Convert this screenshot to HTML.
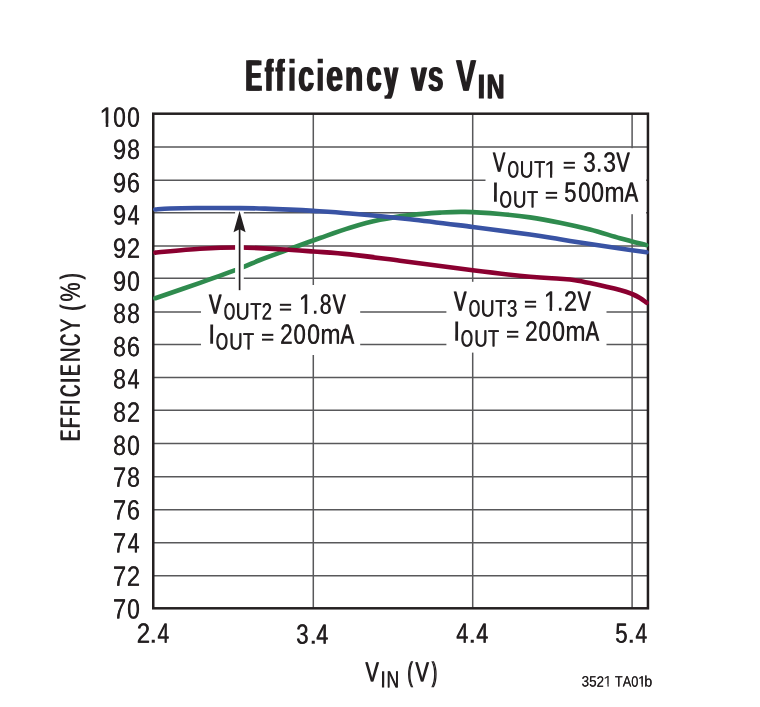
<!DOCTYPE html>
<html><head><meta charset="utf-8"><title>Efficiency vs VIN</title>
<style>
html,body{margin:0;padding:0;background:#fff;}
body{width:760px;height:707px;overflow:hidden;}
svg{display:block;will-change:transform;}
text{font-family:"Liberation Sans",sans-serif;font-kerning:none;}
</style></head><body>
<svg width="760" height="707" viewBox="0 0 760 707">
<rect width="760" height="707" fill="#fff"/>
<path d="M153.25 147.00H647.95M153.25 180.20H647.95M153.25 212.70H647.95M153.25 246.10H647.95M153.25 278.15H647.95M153.25 312.00H647.95M153.25 344.45H647.95M153.25 377.60H647.95M153.25 410.30H647.95M153.25 443.50H647.95M153.25 476.70H647.95M153.25 509.80H647.95M153.25 542.70H647.95M153.25 575.70H647.95M313.3 113.7V608.3M472.7 113.7V608.3M632.1 113.7V608.3" stroke="#58585a" stroke-width="1.5" fill="none"/>
<rect x="485.5" y="148.2" width="160.6" height="66" fill="#fff"/>
<rect x="201" y="285" width="159.2" height="70" fill="#fff"/>
<rect x="446.4" y="281.8" width="160.1" height="70.8" fill="#fff"/>
<rect x="153.25" y="113.7" width="494.70" height="494.60" fill="none" stroke="#231f20" stroke-width="2.5"/>
<path d="M155.30 298.20C162.75 295.63 185.88 287.77 200.00 282.80C214.12 277.83 230.00 272.20 240.00 268.40C250.00 264.60 251.67 263.25 260.00 260.00C268.33 256.75 280.00 252.57 290.00 248.90C300.00 245.23 310.00 241.53 320.00 238.00C330.00 234.47 340.00 230.73 350.00 227.70C360.00 224.67 370.00 221.90 380.00 219.80C390.00 217.70 400.00 216.30 410.00 215.10C420.00 213.90 430.83 213.13 440.00 212.60C449.17 212.07 455.00 211.67 465.00 211.90C475.00 212.13 489.17 213.08 500.00 214.00C510.83 214.92 520.00 215.93 530.00 217.40C540.00 218.87 550.00 220.77 560.00 222.80C570.00 224.83 580.00 227.03 590.00 229.60C600.00 232.17 610.63 235.62 620.00 238.20C629.37 240.78 641.83 243.95 646.20 245.10" stroke="#2f8b4e" stroke-width="4.6" fill="none" stroke-linecap="round" stroke-linejoin="round"/>
<path d="M155.30 252.60C162.75 251.97 185.88 249.65 200.00 248.80C214.12 247.95 226.67 247.43 240.00 247.50C253.33 247.57 267.77 248.53 280.00 249.20C292.23 249.87 301.73 250.63 313.40 251.50C325.07 252.37 335.57 252.87 350.00 254.40C364.43 255.93 379.55 258.05 400.00 260.70C420.45 263.35 451.03 267.62 472.70 270.30C494.37 272.98 515.45 275.38 530.00 276.80C544.55 278.22 552.50 278.23 560.00 278.80C567.50 279.37 570.00 279.48 575.00 280.20C580.00 280.92 582.50 281.45 590.00 283.10C597.50 284.75 613.00 288.28 620.00 290.10C627.00 291.92 628.67 292.68 632.00 294.00C635.33 295.32 637.57 296.55 640.00 298.00C642.43 299.45 645.50 301.92 646.60 302.70" stroke="#8a0030" stroke-width="4.6" fill="none" stroke-linecap="round" stroke-linejoin="round"/>
<path d="M155.30 209.50C157.75 209.33 163.22 208.74 170.00 208.50C176.78 208.26 184.33 208.12 196.00 208.05C207.67 207.98 228.50 208.01 240.00 208.10C251.50 208.19 256.67 208.35 265.00 208.60C273.33 208.85 281.93 209.22 290.00 209.60C298.07 209.98 303.40 210.25 313.40 210.90C323.40 211.55 333.90 212.12 350.00 213.50C366.10 214.88 389.55 216.95 410.00 219.20C430.45 221.45 452.70 224.45 472.70 227.00C492.70 229.55 515.45 232.45 530.00 234.50C544.55 236.55 550.00 237.70 560.00 239.30C570.00 240.90 580.00 242.57 590.00 244.10C600.00 245.63 610.57 247.13 620.00 248.50C629.43 249.87 642.17 251.67 646.60 252.30" stroke="#3953a4" stroke-width="4.6" fill="none" stroke-linecap="round" stroke-linejoin="round"/>
<rect x="235.1" y="211.2" width="8.7" height="79" fill="#fff"/>
<path d="M239.6 290.2V228" stroke="#231f20" stroke-width="1.7" fill="none"/>
<path d="M239.55 211.0L245.6 232.3L239.55 229.2L233.5 232.3Z" fill="#231f20"/>
<g fill="#231f20">
<text transform="translate(99.36 126.65) rotate(0.1) scale(0.9079 1)" font-size="27.9">1</text>
<text transform="translate(99.69 126.65) rotate(0.1) scale(0.9079 1)" font-size="27.9">1</text>
<rect x="100.09" y="123.47" width="5.64" height="4.18" fill="#fff"/>
<rect x="108.30" y="123.47" width="5.64" height="4.18" fill="#fff"/>
<text transform="translate(113.02 126.65) rotate(0.1) scale(0.8042 1)" font-size="27.9">0</text>
<text transform="translate(113.50 126.65) rotate(0.1) scale(0.8042 1)" font-size="27.9">0</text>
<text transform="translate(127.02 126.65) rotate(0.1) scale(0.8042 1)" font-size="27.9">0</text>
<text transform="translate(127.50 126.65) rotate(0.1) scale(0.8042 1)" font-size="27.9">0</text>
<text transform="translate(112.80 159.10) rotate(0.1) scale(0.8394 1)" font-size="27.9">9</text>
<text transform="translate(113.19 159.10) rotate(0.1) scale(0.8394 1)" font-size="27.9">9</text>
<text transform="translate(126.90 159.10) rotate(0.1) scale(0.8230 1)" font-size="27.9">8</text>
<text transform="translate(127.33 159.10) rotate(0.1) scale(0.8230 1)" font-size="27.9">8</text>
<text transform="translate(112.80 192.20) rotate(0.1) scale(0.8394 1)" font-size="27.9">9</text>
<text transform="translate(113.19 192.20) rotate(0.1) scale(0.8394 1)" font-size="27.9">9</text>
<text transform="translate(126.71 192.20) rotate(0.1) scale(0.8405 1)" font-size="27.9">6</text>
<text transform="translate(127.09 192.20) rotate(0.1) scale(0.8405 1)" font-size="27.9">6</text>
<text transform="translate(112.80 224.50) rotate(0.1) scale(0.8394 1)" font-size="27.9">9</text>
<text transform="translate(113.19 224.50) rotate(0.1) scale(0.8394 1)" font-size="27.9">9</text>
<text transform="translate(127.42 224.50) rotate(0.1) scale(0.7535 1)" font-size="27.9">4</text>
<text transform="translate(128.02 224.50) rotate(0.1) scale(0.7535 1)" font-size="27.9">4</text>
<text transform="translate(112.80 257.65) rotate(0.1) scale(0.8394 1)" font-size="27.9">9</text>
<text transform="translate(113.19 257.65) rotate(0.1) scale(0.8394 1)" font-size="27.9">9</text>
<text transform="translate(126.70 257.65) rotate(0.1) scale(0.8541 1)" font-size="27.9">2</text>
<text transform="translate(127.05 257.65) rotate(0.1) scale(0.8541 1)" font-size="27.9">2</text>
<text transform="translate(112.80 290.80) rotate(0.1) scale(0.8394 1)" font-size="27.9">9</text>
<text transform="translate(113.19 290.80) rotate(0.1) scale(0.8394 1)" font-size="27.9">9</text>
<text transform="translate(127.02 290.80) rotate(0.1) scale(0.8042 1)" font-size="27.9">0</text>
<text transform="translate(127.50 290.80) rotate(0.1) scale(0.8042 1)" font-size="27.9">0</text>
<text transform="translate(112.90 322.95) rotate(0.1) scale(0.8230 1)" font-size="27.9">8</text>
<text transform="translate(113.33 322.95) rotate(0.1) scale(0.8230 1)" font-size="27.9">8</text>
<text transform="translate(126.90 322.95) rotate(0.1) scale(0.8230 1)" font-size="27.9">8</text>
<text transform="translate(127.33 322.95) rotate(0.1) scale(0.8230 1)" font-size="27.9">8</text>
<text transform="translate(112.90 356.15) rotate(0.1) scale(0.8230 1)" font-size="27.9">8</text>
<text transform="translate(113.33 356.15) rotate(0.1) scale(0.8230 1)" font-size="27.9">8</text>
<text transform="translate(126.71 356.15) rotate(0.1) scale(0.8405 1)" font-size="27.9">6</text>
<text transform="translate(127.09 356.15) rotate(0.1) scale(0.8405 1)" font-size="27.9">6</text>
<text transform="translate(112.90 388.55) rotate(0.1) scale(0.8230 1)" font-size="27.9">8</text>
<text transform="translate(113.33 388.55) rotate(0.1) scale(0.8230 1)" font-size="27.9">8</text>
<text transform="translate(127.42 388.55) rotate(0.1) scale(0.7535 1)" font-size="27.9">4</text>
<text transform="translate(128.02 388.55) rotate(0.1) scale(0.7535 1)" font-size="27.9">4</text>
<text transform="translate(112.90 421.65) rotate(0.1) scale(0.8230 1)" font-size="27.9">8</text>
<text transform="translate(113.33 421.65) rotate(0.1) scale(0.8230 1)" font-size="27.9">8</text>
<text transform="translate(126.70 421.65) rotate(0.1) scale(0.8541 1)" font-size="27.9">2</text>
<text transform="translate(127.05 421.65) rotate(0.1) scale(0.8541 1)" font-size="27.9">2</text>
<text transform="translate(112.90 455.00) rotate(0.1) scale(0.8230 1)" font-size="27.9">8</text>
<text transform="translate(113.33 455.00) rotate(0.1) scale(0.8230 1)" font-size="27.9">8</text>
<text transform="translate(127.02 455.00) rotate(0.1) scale(0.8042 1)" font-size="27.9">0</text>
<text transform="translate(127.50 455.00) rotate(0.1) scale(0.8042 1)" font-size="27.9">0</text>
<text transform="translate(112.68 486.80) rotate(0.1) scale(0.8564 1)" font-size="27.9">7</text>
<text transform="translate(113.01 486.80) rotate(0.1) scale(0.8564 1)" font-size="27.9">7</text>
<text transform="translate(126.90 486.80) rotate(0.1) scale(0.8230 1)" font-size="27.9">8</text>
<text transform="translate(127.33 486.80) rotate(0.1) scale(0.8230 1)" font-size="27.9">8</text>
<text transform="translate(112.68 519.50) rotate(0.1) scale(0.8564 1)" font-size="27.9">7</text>
<text transform="translate(113.01 519.50) rotate(0.1) scale(0.8564 1)" font-size="27.9">7</text>
<text transform="translate(126.71 519.50) rotate(0.1) scale(0.8405 1)" font-size="27.9">6</text>
<text transform="translate(127.09 519.50) rotate(0.1) scale(0.8405 1)" font-size="27.9">6</text>
<text transform="translate(112.68 552.50) rotate(0.1) scale(0.8564 1)" font-size="27.9">7</text>
<text transform="translate(113.01 552.50) rotate(0.1) scale(0.8564 1)" font-size="27.9">7</text>
<text transform="translate(127.42 552.50) rotate(0.1) scale(0.7535 1)" font-size="27.9">4</text>
<text transform="translate(128.02 552.50) rotate(0.1) scale(0.7535 1)" font-size="27.9">4</text>
<text transform="translate(112.68 585.75) rotate(0.1) scale(0.8564 1)" font-size="27.9">7</text>
<text transform="translate(113.01 585.75) rotate(0.1) scale(0.8564 1)" font-size="27.9">7</text>
<text transform="translate(126.70 585.75) rotate(0.1) scale(0.8541 1)" font-size="27.9">2</text>
<text transform="translate(127.05 585.75) rotate(0.1) scale(0.8541 1)" font-size="27.9">2</text>
<text transform="translate(112.68 618.60) rotate(0.1) scale(0.8564 1)" font-size="27.9">7</text>
<text transform="translate(113.01 618.60) rotate(0.1) scale(0.8564 1)" font-size="27.9">7</text>
<text transform="translate(127.02 618.60) rotate(0.1) scale(0.8042 1)" font-size="27.9">0</text>
<text transform="translate(127.50 618.60) rotate(0.1) scale(0.8042 1)" font-size="27.9">0</text>
<text transform="translate(136.59 642.65) rotate(0.1) scale(0.8600 1)" font-size="27.9">2</text>
<text transform="translate(136.92 642.65) rotate(0.1) scale(0.8600 1)" font-size="27.9">2</text>
<text transform="translate(148.83 642.65) rotate(0.1) scale(1.1670 1)" font-size="27.9">.</text>
<text transform="translate(157.22 642.65) rotate(0.1) scale(0.7535 1)" font-size="27.9">4</text>
<text transform="translate(157.82 642.65) rotate(0.1) scale(0.7535 1)" font-size="27.9">4</text>
<text transform="translate(295.96 643.65) rotate(0.1) scale(0.7936 1)" font-size="27.9">3</text>
<text transform="translate(296.46 643.65) rotate(0.1) scale(0.7936 1)" font-size="27.9">3</text>
<text transform="translate(308.83 643.65) rotate(0.1) scale(1.1670 1)" font-size="27.9">.</text>
<text transform="translate(316.11 643.65) rotate(0.1) scale(0.7623 1)" font-size="27.9">4</text>
<text transform="translate(316.70 643.65) rotate(0.1) scale(0.7623 1)" font-size="27.9">4</text>
<text transform="translate(455.90 642.65) rotate(0.1) scale(0.7797 1)" font-size="27.9">4</text>
<text transform="translate(456.44 642.65) rotate(0.1) scale(0.7797 1)" font-size="27.9">4</text>
<text transform="translate(467.83 642.65) rotate(0.1) scale(1.1670 1)" font-size="27.9">.</text>
<text transform="translate(476.11 642.65) rotate(0.1) scale(0.7623 1)" font-size="27.9">4</text>
<text transform="translate(476.70 642.65) rotate(0.1) scale(0.7623 1)" font-size="27.9">4</text>
<text transform="translate(615.11 642.65) rotate(0.1) scale(0.7993 1)" font-size="27.9">5</text>
<text transform="translate(615.59 642.65) rotate(0.1) scale(0.7993 1)" font-size="27.9">5</text>
<text transform="translate(626.83 642.65) rotate(0.1) scale(1.1670 1)" font-size="27.9">.</text>
<text transform="translate(635.22 642.65) rotate(0.1) scale(0.7535 1)" font-size="27.9">4</text>
<text transform="translate(635.82 642.65) rotate(0.1) scale(0.7535 1)" font-size="27.9">4</text>
<text transform="translate(208.62 313.70) rotate(0.1) scale(0.6683 1)" font-size="27.9">V</text>
<text transform="translate(209.45 313.70) rotate(0.1) scale(0.6683 1)" font-size="27.9">V</text>
<text transform="translate(223.42 319.50) rotate(0.1) scale(0.6099 1)" font-size="23.7">O</text>
<text transform="translate(224.25 319.50) rotate(0.1) scale(0.6099 1)" font-size="23.7">O</text>
<text transform="translate(235.62 319.50) rotate(0.1) scale(0.8108 1)" font-size="23.7">U</text>
<text transform="translate(236.01 319.50) rotate(0.1) scale(0.8108 1)" font-size="23.7">U</text>
<text transform="translate(250.09 319.50) rotate(0.1) scale(0.7703 1)" font-size="23.7">T</text>
<text transform="translate(250.57 319.50) rotate(0.1) scale(0.7703 1)" font-size="23.7">T</text>
<text transform="translate(261.48 319.50) rotate(0.1) scale(0.7709 1)" font-size="23.7">2</text>
<text transform="translate(261.96 319.50) rotate(0.1) scale(0.7709 1)" font-size="23.7">2</text>
<rect x="279.90" y="303.80" width="11.20" height="2.0" fill="#231f20"/>
<rect x="279.90" y="308.60" width="11.20" height="2.0" fill="#231f20"/>
<text transform="translate(298.65 313.70) rotate(0.1) scale(0.8387 1)" font-size="27.9">1</text>
<text transform="translate(299.15 313.70) rotate(0.1) scale(0.8387 1)" font-size="27.9">1</text>
<rect x="299.23" y="310.52" width="5.30" height="4.18" fill="#fff"/>
<rect x="307.10" y="310.52" width="5.32" height="4.18" fill="#fff"/>
<text transform="translate(311.52 313.70) rotate(0.1) scale(0.9561 1)" font-size="27.9">.</text>
<text transform="translate(319.38 313.70) rotate(0.1) scale(0.7563 1)" font-size="27.9">8</text>
<text transform="translate(319.98 313.70) rotate(0.1) scale(0.7563 1)" font-size="27.9">8</text>
<text transform="translate(332.21 313.70) rotate(0.1) scale(0.7063 1)" font-size="27.9">V</text>
<text transform="translate(332.94 313.70) rotate(0.1) scale(0.7063 1)" font-size="27.9">V</text>
<text transform="translate(207.53 343.75) rotate(0.1) scale(1.0761 1)" font-size="27.9">I</text>
<text transform="translate(215.46 349.55) rotate(0.1) scale(0.6565 1)" font-size="23.7">O</text>
<text transform="translate(216.19 349.55) rotate(0.1) scale(0.6565 1)" font-size="23.7">O</text>
<text transform="translate(228.97 349.55) rotate(0.1) scale(0.7841 1)" font-size="23.7">U</text>
<text transform="translate(229.41 349.55) rotate(0.1) scale(0.7841 1)" font-size="23.7">U</text>
<text transform="translate(242.84 349.55) rotate(0.1) scale(0.7658 1)" font-size="23.7">T</text>
<text transform="translate(243.33 349.55) rotate(0.1) scale(0.7658 1)" font-size="23.7">T</text>
<rect x="262.00" y="333.85" width="11.30" height="2.0" fill="#231f20"/>
<rect x="262.00" y="338.65" width="11.30" height="2.0" fill="#231f20"/>
<text transform="translate(279.90 343.75) rotate(0.1) scale(0.8105 1)" font-size="27.9">2</text>
<text transform="translate(280.36 343.75) rotate(0.1) scale(0.8105 1)" font-size="27.9">2</text>
<text transform="translate(293.17 343.75) rotate(0.1) scale(0.7902 1)" font-size="27.9">0</text>
<text transform="translate(293.68 343.75) rotate(0.1) scale(0.7902 1)" font-size="27.9">0</text>
<text transform="translate(306.95 343.75) rotate(0.1) scale(0.8163 1)" font-size="27.9">0</text>
<text transform="translate(307.39 343.75) rotate(0.1) scale(0.8163 1)" font-size="27.9">0</text>
<text transform="translate(320.19 343.75) rotate(0.1) scale(0.8694 1)" font-size="27.9">m</text>
<text transform="translate(320.49 343.75) rotate(0.1) scale(0.8694 1)" font-size="27.9">m</text>
<text transform="translate(340.26 343.75) rotate(0.1) scale(0.7254 1)" font-size="27.9">A</text>
<text transform="translate(340.94 343.75) rotate(0.1) scale(0.7254 1)" font-size="27.9">A</text>
<text transform="translate(453.62 310.70) rotate(0.1) scale(0.6683 1)" font-size="27.9">V</text>
<text transform="translate(454.45 310.70) rotate(0.1) scale(0.6683 1)" font-size="27.9">V</text>
<text transform="translate(468.42 316.50) rotate(0.1) scale(0.6099 1)" font-size="23.7">O</text>
<text transform="translate(469.25 316.50) rotate(0.1) scale(0.6099 1)" font-size="23.7">O</text>
<text transform="translate(480.62 316.50) rotate(0.1) scale(0.8108 1)" font-size="23.7">U</text>
<text transform="translate(481.01 316.50) rotate(0.1) scale(0.8108 1)" font-size="23.7">U</text>
<text transform="translate(495.09 316.50) rotate(0.1) scale(0.7703 1)" font-size="23.7">T</text>
<text transform="translate(495.57 316.50) rotate(0.1) scale(0.7703 1)" font-size="23.7">T</text>
<text transform="translate(506.68 316.50) rotate(0.1) scale(0.7998 1)" font-size="23.7">3</text>
<text transform="translate(507.09 316.50) rotate(0.1) scale(0.7998 1)" font-size="23.7">3</text>
<rect x="524.90" y="300.80" width="11.20" height="2.0" fill="#231f20"/>
<rect x="524.90" y="305.60" width="11.20" height="2.0" fill="#231f20"/>
<text transform="translate(543.65 310.70) rotate(0.1) scale(0.8387 1)" font-size="27.9">1</text>
<text transform="translate(544.15 310.70) rotate(0.1) scale(0.8387 1)" font-size="27.9">1</text>
<rect x="544.23" y="307.52" width="5.30" height="4.18" fill="#fff"/>
<rect x="552.10" y="307.52" width="5.32" height="4.18" fill="#fff"/>
<text transform="translate(556.52 310.70) rotate(0.1) scale(0.9561 1)" font-size="27.9">.</text>
<text transform="translate(563.83 310.70) rotate(0.1) scale(0.8343 1)" font-size="27.9">2</text>
<text transform="translate(564.23 310.70) rotate(0.1) scale(0.8343 1)" font-size="27.9">2</text>
<text transform="translate(577.21 310.70) rotate(0.1) scale(0.7063 1)" font-size="27.9">V</text>
<text transform="translate(577.94 310.70) rotate(0.1) scale(0.7063 1)" font-size="27.9">V</text>
<text transform="translate(452.53 340.75) rotate(0.1) scale(1.0761 1)" font-size="27.9">I</text>
<text transform="translate(460.46 346.55) rotate(0.1) scale(0.6565 1)" font-size="23.7">O</text>
<text transform="translate(461.19 346.55) rotate(0.1) scale(0.6565 1)" font-size="23.7">O</text>
<text transform="translate(473.97 346.55) rotate(0.1) scale(0.7841 1)" font-size="23.7">U</text>
<text transform="translate(474.41 346.55) rotate(0.1) scale(0.7841 1)" font-size="23.7">U</text>
<text transform="translate(487.84 346.55) rotate(0.1) scale(0.7658 1)" font-size="23.7">T</text>
<text transform="translate(488.33 346.55) rotate(0.1) scale(0.7658 1)" font-size="23.7">T</text>
<rect x="507.00" y="330.85" width="11.30" height="2.0" fill="#231f20"/>
<rect x="507.00" y="335.65" width="11.30" height="2.0" fill="#231f20"/>
<text transform="translate(524.90 340.75) rotate(0.1) scale(0.8105 1)" font-size="27.9">2</text>
<text transform="translate(525.36 340.75) rotate(0.1) scale(0.8105 1)" font-size="27.9">2</text>
<text transform="translate(538.17 340.75) rotate(0.1) scale(0.7902 1)" font-size="27.9">0</text>
<text transform="translate(538.68 340.75) rotate(0.1) scale(0.7902 1)" font-size="27.9">0</text>
<text transform="translate(551.95 340.75) rotate(0.1) scale(0.8163 1)" font-size="27.9">0</text>
<text transform="translate(552.39 340.75) rotate(0.1) scale(0.8163 1)" font-size="27.9">0</text>
<text transform="translate(565.19 340.75) rotate(0.1) scale(0.8694 1)" font-size="27.9">m</text>
<text transform="translate(565.49 340.75) rotate(0.1) scale(0.8694 1)" font-size="27.9">m</text>
<text transform="translate(585.26 340.75) rotate(0.1) scale(0.7254 1)" font-size="27.9">A</text>
<text transform="translate(585.94 340.75) rotate(0.1) scale(0.7254 1)" font-size="27.9">A</text>
<text transform="translate(492.42 171.75) rotate(0.1) scale(0.6683 1)" font-size="27.9">V</text>
<text transform="translate(493.25 171.75) rotate(0.1) scale(0.6683 1)" font-size="27.9">V</text>
<text transform="translate(507.22 177.55) rotate(0.1) scale(0.6099 1)" font-size="23.7">O</text>
<text transform="translate(508.05 177.55) rotate(0.1) scale(0.6099 1)" font-size="23.7">O</text>
<text transform="translate(519.42 177.55) rotate(0.1) scale(0.8108 1)" font-size="23.7">U</text>
<text transform="translate(519.81 177.55) rotate(0.1) scale(0.8108 1)" font-size="23.7">U</text>
<text transform="translate(533.89 177.55) rotate(0.1) scale(0.7703 1)" font-size="23.7">T</text>
<text transform="translate(534.37 177.55) rotate(0.1) scale(0.7703 1)" font-size="23.7">T</text>
<text transform="translate(544.16 177.55) rotate(0.1) scale(0.9836 1)" font-size="23.7">1</text>
<text transform="translate(544.28 177.55) rotate(0.1) scale(0.9836 1)" font-size="23.7">1</text>
<rect x="544.73" y="174.68" width="5.29" height="3.87" fill="#fff"/>
<rect x="552.20" y="174.68" width="5.30" height="3.87" fill="#fff"/>
<rect x="563.70" y="161.85" width="11.20" height="2.0" fill="#231f20"/>
<rect x="563.70" y="166.65" width="11.20" height="2.0" fill="#231f20"/>
<text transform="translate(582.91 171.75) rotate(0.1) scale(0.8002 1)" font-size="27.9">3</text>
<text transform="translate(583.39 171.75) rotate(0.1) scale(0.8002 1)" font-size="27.9">3</text>
<text transform="translate(595.52 171.75) rotate(0.1) scale(0.9524 1)" font-size="27.9">.</text>
<text transform="translate(603.01 171.75) rotate(0.1) scale(0.8143 1)" font-size="27.9">3</text>
<text transform="translate(603.46 171.75) rotate(0.1) scale(0.8143 1)" font-size="27.9">3</text>
<text transform="translate(616.09 171.75) rotate(0.1) scale(0.7184 1)" font-size="27.9">V</text>
<text transform="translate(616.79 171.75) rotate(0.1) scale(0.7184 1)" font-size="27.9">V</text>
<text transform="translate(491.33 201.80) rotate(0.1) scale(1.0761 1)" font-size="27.9">I</text>
<text transform="translate(499.26 207.60) rotate(0.1) scale(0.6565 1)" font-size="23.7">O</text>
<text transform="translate(499.99 207.60) rotate(0.1) scale(0.6565 1)" font-size="23.7">O</text>
<text transform="translate(512.77 207.60) rotate(0.1) scale(0.7841 1)" font-size="23.7">U</text>
<text transform="translate(513.21 207.60) rotate(0.1) scale(0.7841 1)" font-size="23.7">U</text>
<text transform="translate(526.64 207.60) rotate(0.1) scale(0.7658 1)" font-size="23.7">T</text>
<text transform="translate(527.13 207.60) rotate(0.1) scale(0.7658 1)" font-size="23.7">T</text>
<rect x="545.80" y="191.90" width="11.30" height="2.0" fill="#231f20"/>
<rect x="545.80" y="196.70" width="11.30" height="2.0" fill="#231f20"/>
<text transform="translate(563.99 201.80) rotate(0.1) scale(0.7871 1)" font-size="27.9">5</text>
<text transform="translate(564.51 201.80) rotate(0.1) scale(0.7871 1)" font-size="27.9">5</text>
<text transform="translate(578.00 201.80) rotate(0.1) scale(0.7893 1)" font-size="27.9">0</text>
<text transform="translate(578.51 201.80) rotate(0.1) scale(0.7893 1)" font-size="27.9">0</text>
<text transform="translate(590.95 201.80) rotate(0.1) scale(0.8163 1)" font-size="27.9">0</text>
<text transform="translate(591.39 201.80) rotate(0.1) scale(0.8163 1)" font-size="27.9">0</text>
<text transform="translate(604.19 201.80) rotate(0.1) scale(0.8694 1)" font-size="27.9">m</text>
<text transform="translate(604.49 201.80) rotate(0.1) scale(0.8694 1)" font-size="27.9">m</text>
<text transform="translate(624.26 201.80) rotate(0.1) scale(0.7254 1)" font-size="27.9">A</text>
<text transform="translate(624.94 201.80) rotate(0.1) scale(0.7254 1)" font-size="27.9">A</text>
<text transform="translate(244.58 90.80) rotate(0.1) scale(0.5473 1)" font-size="44.2" font-weight="bold">E</text>
<text transform="translate(246.71 90.80) rotate(0.1) scale(0.5473 1)" font-size="44.2" font-weight="bold">E</text>
<text transform="translate(264.25 90.80) rotate(0.1) scale(0.4603 1)" font-size="44.2" font-weight="bold">f</text>
<text transform="translate(265.59 90.80) rotate(0.1) scale(0.4603 1)" font-size="44.2" font-weight="bold">f</text>
<text transform="translate(266.94 90.80) rotate(0.1) scale(0.4603 1)" font-size="44.2" font-weight="bold">f</text>
<text transform="translate(275.12 90.80) rotate(0.1) scale(0.5059 1)" font-size="44.2" font-weight="bold">f</text>
<text transform="translate(277.51 90.80) rotate(0.1) scale(0.5059 1)" font-size="44.2" font-weight="bold">f</text>
<text transform="translate(286.85 90.80) rotate(0.1) scale(0.8574 1)" font-size="44.2" font-weight="bold">i</text>
<text transform="translate(297.49 90.80) rotate(0.1) scale(0.6441 1)" font-size="44.2" font-weight="bold">c</text>
<text transform="translate(299.00 90.80) rotate(0.1) scale(0.6441 1)" font-size="44.2" font-weight="bold">c</text>
<text transform="translate(314.95 90.80) rotate(0.1) scale(0.8574 1)" font-size="44.2" font-weight="bold">i</text>
<text transform="translate(325.58 90.80) rotate(0.1) scale(0.6768 1)" font-size="44.2" font-weight="bold">e</text>
<text transform="translate(326.89 90.80) rotate(0.1) scale(0.6768 1)" font-size="44.2" font-weight="bold">e</text>
<text transform="translate(344.34 90.80) rotate(0.1) scale(0.6734 1)" font-size="44.2" font-weight="bold">n</text>
<text transform="translate(345.66 90.80) rotate(0.1) scale(0.6734 1)" font-size="44.2" font-weight="bold">n</text>
<text transform="translate(365.76 90.80) rotate(0.1) scale(0.6046 1)" font-size="44.2" font-weight="bold">c</text>
<text transform="translate(367.52 90.80) rotate(0.1) scale(0.6046 1)" font-size="44.2" font-weight="bold">c</text>
<text transform="translate(383.21 90.80) rotate(0.1) scale(0.5522 1)" font-size="44.2" font-weight="bold">y</text>
<text transform="translate(385.31 90.80) rotate(0.1) scale(0.5522 1)" font-size="44.2" font-weight="bold">y</text>
<text transform="translate(410.29 90.80) rotate(0.1) scale(0.6268 1)" font-size="44.2" font-weight="bold">v</text>
<text transform="translate(411.91 90.80) rotate(0.1) scale(0.6268 1)" font-size="44.2" font-weight="bold">v</text>
<text transform="translate(427.23 90.80) rotate(0.1) scale(0.6254 1)" font-size="44.2" font-weight="bold">s</text>
<text transform="translate(428.86 90.80) rotate(0.1) scale(0.6254 1)" font-size="44.2" font-weight="bold">s</text>
<text transform="translate(455.50 90.80) rotate(0.1) scale(0.6702 1)" font-size="44.2" font-weight="bold">V</text>
<text transform="translate(456.84 90.80) rotate(0.1) scale(0.6702 1)" font-size="44.2" font-weight="bold">V</text>
<rect x="382" y="98.75" width="18" height="2.5" fill="#fff"/>
<text transform="translate(476.55 98.60) rotate(0.1) scale(1.0017 1)" font-size="35.0" font-weight="bold">I</text>
<text transform="translate(485.94 98.60) rotate(0.1) scale(0.7081 1)" font-size="35.0" font-weight="bold">N</text>
<text transform="translate(487.27 98.60) rotate(0.1) scale(0.7081 1)" font-size="35.0" font-weight="bold">N</text>
<text transform="translate(365.01 681.45) rotate(0.1) scale(0.7254 1)" font-size="27.9">V</text>
<text transform="translate(365.69 681.45) rotate(0.1) scale(0.7254 1)" font-size="27.9">V</text>
<text transform="translate(379.72 687.55) rotate(0.1) scale(1.0180 1)" font-size="23.7">I</text>
<text transform="translate(386.27 687.55) rotate(0.1) scale(0.7362 1)" font-size="23.7">N</text>
<text transform="translate(386.82 687.55) rotate(0.1) scale(0.7362 1)" font-size="23.7">N</text>
<text transform="translate(406.95 681.45) rotate(0.1) scale(0.5804 1)" font-size="27.9">(</text>
<text transform="translate(408.00 681.45) rotate(0.1) scale(0.5804 1)" font-size="27.9">(</text>
<text transform="translate(415.01 681.45) rotate(0.1) scale(0.7285 1)" font-size="27.9">V</text>
<text transform="translate(415.68 681.45) rotate(0.1) scale(0.7285 1)" font-size="27.9">V</text>
<text transform="translate(431.31 681.45) rotate(0.1) scale(0.5491 1)" font-size="27.9">)</text>
<text transform="translate(432.45 681.45) rotate(0.1) scale(0.5491 1)" font-size="27.9">)</text>
<text transform="translate(79.65 441.39) rotate(-89.9) scale(0.5857 1)" font-size="27.9">E</text>
<text transform="translate(79.65 440.35) rotate(-89.9) scale(0.5857 1)" font-size="27.9">E</text>
<text transform="translate(79.65 428.39) rotate(-89.9) scale(0.5875 1)" font-size="27.9">F</text>
<text transform="translate(79.65 427.36) rotate(-89.9) scale(0.5875 1)" font-size="27.9">F</text>
<text transform="translate(79.65 416.37) rotate(-89.9) scale(0.5966 1)" font-size="27.9">F</text>
<text transform="translate(79.65 415.35) rotate(-89.9) scale(0.5966 1)" font-size="27.9">F</text>
<text transform="translate(79.65 406.27) rotate(-89.9) scale(1.0377 1)" font-size="27.9">I</text>
<text transform="translate(79.65 397.38) rotate(-89.9) scale(0.6194 1)" font-size="27.9">C</text>
<text transform="translate(79.65 396.42) rotate(-89.9) scale(0.6194 1)" font-size="27.9">C</text>
<text transform="translate(79.65 384.42) rotate(-89.9) scale(1.0569 1)" font-size="27.9">I</text>
<text transform="translate(79.65 376.14) rotate(-89.9) scale(0.5857 1)" font-size="27.9">E</text>
<text transform="translate(79.65 375.10) rotate(-89.9) scale(0.5857 1)" font-size="27.9">E</text>
<text transform="translate(79.65 362.62) rotate(-89.9) scale(0.7389 1)" font-size="27.9">N</text>
<text transform="translate(79.65 361.98) rotate(-89.9) scale(0.7389 1)" font-size="27.9">N</text>
<text transform="translate(79.65 346.52) rotate(-89.9) scale(0.6055 1)" font-size="27.9">C</text>
<text transform="translate(79.65 345.53) rotate(-89.9) scale(0.6055 1)" font-size="27.9">C</text>
<text transform="translate(79.65 332.61) rotate(-89.9) scale(0.7336 1)" font-size="27.9">Y</text>
<text transform="translate(79.65 331.95) rotate(-89.9) scale(0.7336 1)" font-size="27.9">Y</text>
<text transform="translate(79.65 310.89) rotate(-89.9) scale(0.6325 1)" font-size="27.9">(</text>
<text transform="translate(79.65 309.97) rotate(-89.9) scale(0.6325 1)" font-size="27.9">(</text>
<text transform="translate(79.65 301.86) rotate(-89.9) scale(0.7683 1)" font-size="27.9">%</text>
<text transform="translate(79.65 301.30) rotate(-89.9) scale(0.7683 1)" font-size="27.9">%</text>
<text transform="translate(79.65 279.70) rotate(-89.9) scale(0.6409 1)" font-size="27.9">)</text>
<text transform="translate(79.65 278.81) rotate(-89.9) scale(0.6409 1)" font-size="27.9">)</text>
<text transform="translate(581.59 686.60) rotate(0.1) scale(0.8891 1)" font-size="15.1">352</text>
<text transform="translate(581.73 686.60) rotate(0.1) scale(0.8891 1)" font-size="15.1">352</text>
<text transform="translate(603.36 686.60) rotate(0.1) scale(1.0600 1)" font-size="15.1">1</text>
<rect x="603.38" y="684.37" width="4.01" height="3.23" fill="#fff"/>
<rect x="608.80" y="684.37" width="4.08" height="3.23" fill="#fff"/>
<text transform="translate(614.86 686.60) rotate(0.1) scale(0.8464 1)" font-size="15.1">TA0</text>
<text transform="translate(615.06 686.60) rotate(0.1) scale(0.8464 1)" font-size="15.1">TA0</text>
<text transform="translate(638.09 686.60) rotate(0.1) scale(0.9003 1)" font-size="15.1">1</text>
<text transform="translate(638.28 686.60) rotate(0.1) scale(0.9003 1)" font-size="15.1">1</text>
<rect x="637.93" y="684.37" width="3.58" height="3.23" fill="#fff"/>
<rect x="642.90" y="684.37" width="3.68" height="3.23" fill="#fff"/>
<text transform="translate(644.28 686.60) rotate(0.1) scale(0.9496 1)" font-size="15.1">b</text>
<text transform="translate(644.33 686.60) rotate(0.1) scale(0.9496 1)" font-size="15.1">b</text>
</g>
</svg>
</body></html>
